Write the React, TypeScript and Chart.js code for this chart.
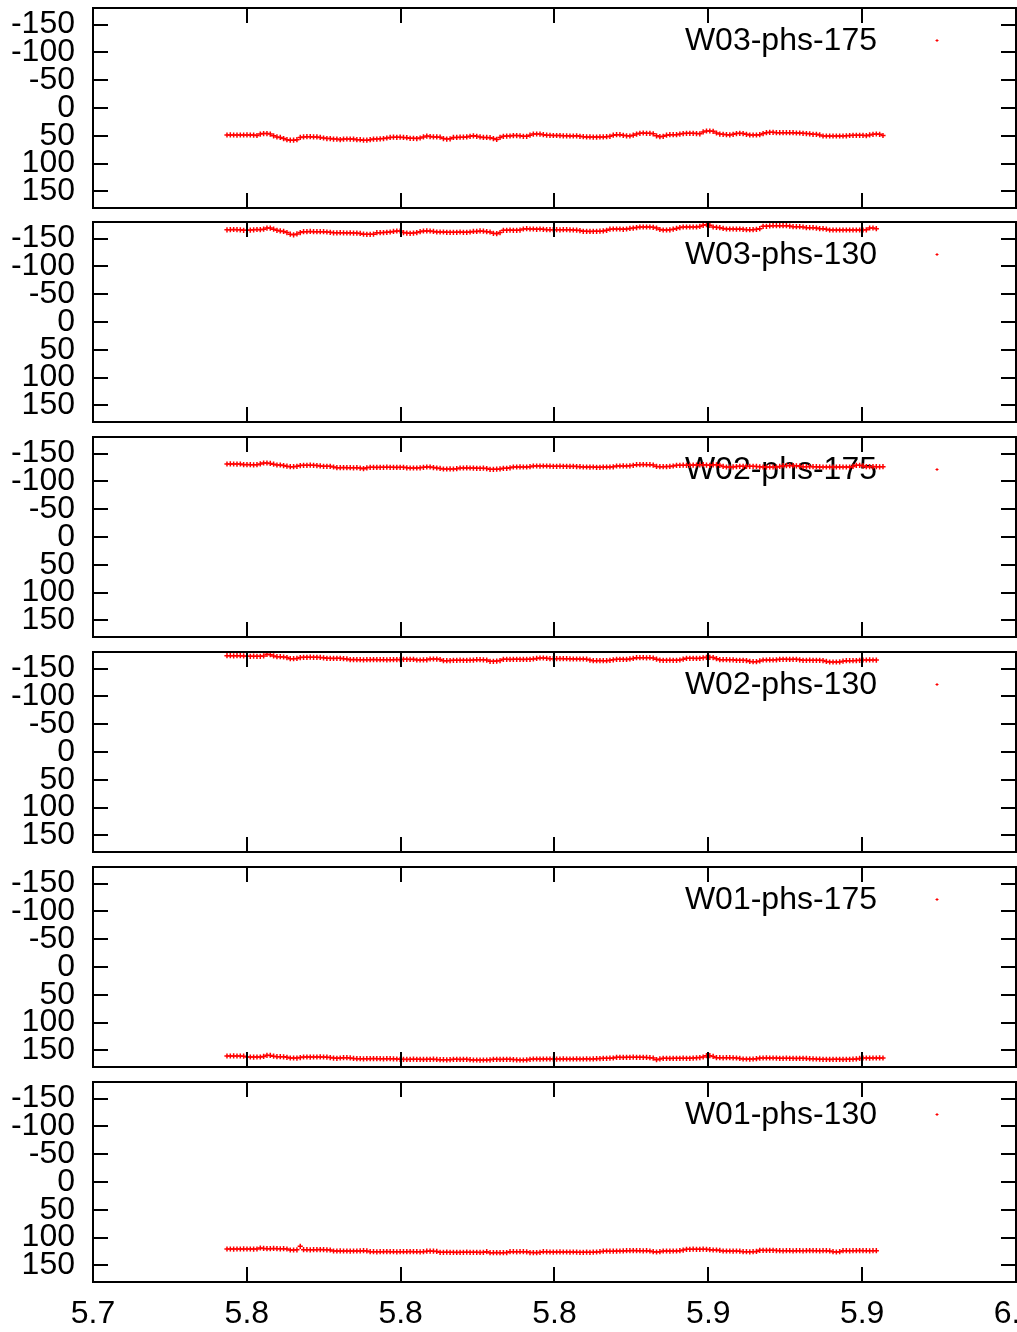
import React, { useEffect, useRef } from "react";
import { Chart, registerables } from "chart.js";
Chart.register(...registerables);

const seriesNames = ["W03-phs-175", "W03-phs-130", "W02-phs-175", "W02-phs-130", "W01-phs-175", "W01-phs-130"];
const xStart = 5.74355;
const xStep = 0.0010823;
const xTickValues = [5.7, 5.75, 5.8, 5.85, 5.9, 5.95, 6.0];
const xTickLabels = ["5.7", "5.8", "5.8", "5.8", "5.9", "5.9", "6.0"];
const yTickValues = [-150, -100, -50, 0, 50, 100, 150];

const w03phs175 = [
  48.6, 48.4, 48.6, 48.8, 48.6, 48.6, 48.4, 48.6, 48.8, 49.5,
  47, 46, 46, 47, 50, 52, 53, 55, 57, 58, 58, 57,
  53, 52, 51.6, 51.6, 52, 52, 53, 54, 55, 55, 56, 56, 57,
  56, 55.8, 56, 56, 57, 57, 58, 58, 57, 56, 56, 55.5, 55, 54,
  53, 52.6, 52.8, 52.5, 53, 53.5, 54.6, 54.6, 55, 54, 52, 50.5, 51.5,
  52, 52, 52.5, 55, 56, 55.5, 53, 53, 52.5, 52.5, 52, 51, 50,
  51, 52, 53, 53, 53.5, 55, 56.5, 53, 51, 50.5, 50.4, 49.6, 49.6, 50,
  51, 51, 49, 47, 46.8, 47, 48, 49,
  49.2, 49.5, 49.5, 49.6, 50, 50, 50.4, 50.4, 50,
  51, 51.6, 52, 52, 52.4, 52.4, 52, 52, 51.6, 51, 49, 48, 48,
  49.2, 50, 50.4, 49, 47, 45.6, 45, 45.6, 45.6, 46.5, 50, 51.6, 51,
  49, 48, 48, 48, 47, 46, 45.6, 45.6, 45.6, 46, 46.5, 43, 41.4, 41.4, 42,
  45, 47, 47.4, 48, 48.5, 47.4, 46, 45.6, 46, 47.4, 48.6, 48.6, 48.6, 48,
  46, 44.4, 43.8, 43.8, 44.4, 44.4, 44.4, 44.4, 44.4, 44.4, 45, 45, 45.6,
  46, 46.5, 47.4, 47.4, 48.5, 50.4, 50.4, 50.4, 50.4, 50.4, 50.4, 50.4,
  50, 49.5, 49.2, 49.2, 49.2, 49.2, 49.8, 48.5, 47.4, 46.8, 47.4, 49.5,
];
const w03phs130 = [
  -166, -166.2, -166.5, -166.2, -166, -165, -165, -165.5, -166, -166.5, -166.2, -167,
  -169, -169, -167, -165, -164, -163, -161, -158, -157, -158.5,
  -161, -162.6, -162.6, -163, -162.6, -162.6, -162.6, -162.6, -162, -161.5,
  -160.5, -160.5, -160.8, -160.5, -160.2, -160.5, -160, -160, -159.5,
  -158, -157.8, -157.8, -158, -160.8, -160.8, -161, -161.5, -162, -163, -163.8, -163.8,
  -161, -160, -159.6, -160, -161, -162.5, -163.8, -164, -163.8, -163,
  -162, -162, -162, -161.5, -161.5, -161.4, -161.4, -162, -161.4, -161.4, -162,
  -163, -163, -164, -163.5, -162.6, -162, -159.6, -159, -161,
  -165, -165, -165.4, -165, -165, -165.5, -167.4, -168, -167.4, -167.4, -166.8, -167.4, -166.8, -166.2,
  -166.2, -166.2, -166.2, -166, -166.2, -166.2, -166, -165.6, -165.2, -164.5,
  -163.2, -163.2, -163, -163.2, -163.2, -163.4, -164, -165, -167, -167.4, -167.4, -167.4,
  -166.8, -167.4, -168.5, -169, -170, -171, -171, -171, -171, -170.5,
  -169, -166.5, -165.6, -165.6, -166, -167, -168.5, -170,
  -171, -171, -171, -171, -171, -172, -174, -175.2, -174, -171, -170.4,
  -169.8, -168.5, -167.4, -167.4, -167.4, -167, -167.4, -166.8, -166.2,
  -166.2, -166.2, -166.8, -168, -172.2, -172.2, -173, -173.4, -173.4, -173.4,
  -173.4, -173.4, -172.6, -171.6, -171.6, -171.6, -171, -169.8, -169.8, -169.8, -169, -168, -168,
  -167, -165.6, -165.6, -165.6, -165.6, -165.6, -165.6, -165.6, -165.6,
  -165.6, -165.6, -165.6, -166, -169.2, -169.2, -168,
];
const w02phs175 = [
  -131.4, -131.6, -131.4, -131.2, -131.4, -130.2, -130.4, -130.2, -130, -130.2,
  -131.5, -133.2, -133.2, -132.5, -131, -129.6, -129.6, -128.5, -127.5, -126.6, -126.6, -127.2,
  -128.5, -129, -129, -129.2, -129, -128.6, -128, -127.2, -127.2, -127.2,
  -126, -124.8, -124.8, -125, -124.8, -124.8, -124.6, -124.8, -124, -123,
  -124.5, -125.4, -125.4, -125.2, -125.4, -125.4, -125.6, -125.4, -125.4, -125.2, -125.4, -125.4,
  -124.5, -124.2, -124.2, -124.2, -124.6, -125.5, -126, -126, -125, -124.2, -123.5,
  -122.4, -122.4, -122.6, -122.4, -123, -124.2, -124.2, -124.4, -124.2, -124,
  -123.6, -123.6, -123.8, -123.2, -121.8, -121.8, -122, -122.5, -123.6, -123.6, -124.5,
  -126, -126, -126.2, -126, -126, -126.5, -127.8, -127.8, -127.6, -127.8, -127.8,
  -127.5, -127.2, -127.2, -127.4, -127.2, -127.2, -127, -127.2, -126.8, -126.6,
  -126, -126, -125.8, -126, -125.4, -125.4, -125.8, -126, -126, -126.4,
  -127.8, -127.8, -128, -127.8, -128.2, -129, -130.2, -130.2, -130.4, -130.2, -130.2, -129.5,
  -127, -126.6, -126.6, -126.8, -127, -127.8, -129, -129, -129.2, -129, -129, -129.4,
  -129.6, -130, -130.2, -129.5, -129, -130, -130, -129, -127, -126, -126, -126.2,
  -126.8, -127.2, -127.2, -127, -127.2, -127.2, -127, -126.4, -126, -126, -126.2, -126, -126,
  -127, -128.4, -128.4, -128.6, -128.4, -128.2, -127.5, -126.6, -126.6, -126.8, -126.6,
  -126.6, -126.2, -126, -126, -126, -126, -126, -126.2, -126, -126, -126, -127,
  -129, -129, -128, -126.6, -126.6, -126.8, -126.6, -126.4, -126.6,
];
const w02phs130 = [
  -173.4, -173.4, -173.2, -173.4, -173.4, -173, -172.2, -172.2, -172.4, -172.2, -172.2, -173,
  -175.8, -175.2, -173, -171.6, -171.6, -171, -170, -168, -168, -168.5,
  -170, -170.4, -170.4, -170.6, -170.4, -170.4, -170.2, -169.5,
  -168.6, -168.6, -168.4, -168.6, -168.6, -168, -167.5,
  -166.2, -166.4, -166.2, -166.2, -166, -166.2, -166.2, -166.4, -166.2, -166.2, -166.2, -166, -166.2, -166.2, -166.4, -166.2,
  -166.8, -166.8, -166.6, -166.8, -165.6, -165.6, -165.8, -166, -167.4, -167.4, -167.2, -166.5,
  -164.4, -164.4, -164.6, -165, -165, -165.2, -165, -165, -165.2, -165.5,
  -166.2, -166.2, -166, -165.5, -163.2, -163.2, -163.6, -164.5,
  -166.8, -166.8, -166.6, -166.8, -166.8, -166.8, -166.6, -166.8, -166.8, -167.5,
  -168.5, -169.2, -169.2, -168.6,
  -168, -168, -168, -168.2, -168, -168, -167.8, -167.4, -167.4, -167.4, -167.4, -167,
  -165.5, -164.4, -164.4, -164.6, -164.4, -164.4, -165, -166, -166.8, -166.8, -166.8, -166.6, -167.5,
  -168.5, -169.8, -169.8, -169.8, -169.6, -169.8, -169, -167, -165.5,
  -165, -165, -165.2, -165, -165, -165.6, -167, -168.6, -168.6, -168.6, -168.4, -168.6,
  -169.5, -170.4, -170.4, -170, -168, -166.2, -166.2, -166.2, -166, -166,
  -165, -165, -165, -164.5, -163, -162.6, -162.6, -164, -165.6, -165.6, -165.8, -165.6,
  -166, -166.8, -166.8, -166.8, -166.6, -166.8, -166.8, -166, -165, -165, -165.2, -165, -165,
  -165, -164.5, -163, -162, -162, -162, -162.2, -163.5, -164.4, -164.4, -164.4,
  -164.6, -165, -165.6, -165.6, -165.8, -165.6, -165.4,
];
const w01phs175 = [
  160.2, 160.2, 160, 160.2, 160.2, 160.6, 162, 162, 162.2, 162, 162, 161,
  159, 159.2, 160.5, 161.4, 161.4, 161.6, 162.5, 163.8, 163.8, 164, 163,
  162, 162, 162.2, 162, 162, 161.8, 162, 162.4, 163, 164, 164.4,
  163.8, 163.2, 163.2, 163.6,
  164.5, 165, 165, 165.2, 165, 165, 164.8, 165, 165, 165.2, 165, 165, 165.2, 165.6,
  166.2, 166.2, 166.4, 166.2, 166, 166.2, 166.2, 166.4, 166.2, 166.2, 166, 166.4,
  166.8, 166.8, 167, 166.8, 166.2, 166.2, 166.4, 166.2, 166.2,
  166.8, 167.4, 167.4, 167.6, 167.4, 167.4, 167,
  166.2, 166.2, 166.4, 166.2, 166.2, 166.2, 166.6, 167, 167.4, 167.4, 167.2,
  166.2, 165.6, 165.6, 165.8, 165.6, 165.6,
  165.6, 165.6, 165.8, 165.6, 165.4, 165.6, 165.6, 165.6, 165.4, 165.6, 165.6, 165.2, 165.6, 165.4, 165,
  164.8, 164.4, 164.4, 164.2,
  163.8, 162.6, 162.6, 162.8, 162.6, 162.6, 162.4, 162.6, 162.6, 162.6, 162.8, 163.2,
  164, 166.8, 165.5, 164.4, 164.4, 164.6, 164.4, 164.4,
  164.4, 164.2, 164.4, 164.4, 164, 163.5, 163, 162, 159.6, 159.6, 161,
  163.2, 163.2, 163.4, 163.2, 163.2, 163.4, 163.8, 164.5, 165.6, 165.6, 165.8, 165.6, 165,
  164, 163.8, 163.6, 163.8, 163.8, 164,
  164.4, 164.4, 164.2, 164.4, 164.4, 164.6, 164.4, 164.4, 164.6, 165, 165.2, 165.6, 166,
  166.2, 166.2, 166.4, 166.2, 166.2, 166.2, 166.4, 166.2, 166.2, 166, 165.5,
  164.5, 163.8, 163.8, 164, 163.8, 163.8, 163.6, 163.8,
];
const w01phs130 = [
  120.6, 120.6, 120.8, 120.6, 120.6, 120.4, 120.6, 120.6, 120.8, 120.6, 118.8, 119.5,
  120, 120, 119.6, 120, 120.2, 120, 120.6, 122.4, 122.4, 122, 115.8,
  121.8, 121.8, 122, 121.8, 121.8, 121.6, 121.8, 122, 122.4,
  124.2, 124.2, 124, 124.2, 124.2, 124.4, 124.2, 124.2, 124, 123.6, 124,
  125.4, 125.4, 125.6, 125.4, 125.4, 125.2, 125.4, 125.4, 125.6, 125.4, 125.4, 125.4, 125.2, 125.4, 125.4, 125.6, 125.4, 124.6, 124.4, 124.6, 125,
  126.6, 126.6, 126.4, 126.6, 126.6, 126.8, 126.6, 126.6, 126.4, 126.6, 126.6, 126.6, 126.8, 126.6,
  125.4, 127.2, 127.2, 127, 127.2, 127.2, 127, 125.4, 125.4, 125.6, 125.4, 125.4, 125.6,
  127, 127, 127.2, 126.6, 125.4, 125.6,
  126, 126.2, 126, 125.8, 126, 126, 126.2, 126, 126.4, 126.6, 126.6, 126.4, 126.6, 126.4, 126, 125.4,
  124.5, 124.2, 124.5, 124.6, 124.4, 124.2, 124,
  123.6, 123.6, 123.4, 123.6, 123.6, 123.8, 123.6, 124.2, 125.5, 126, 125.4,
  124.2, 124.2, 124.4, 124.2, 124.2, 123.6, 122.5, 121.2, 121.2, 121, 121.2, 121.2,
  121, 121.2, 121.8, 122.4, 122.4, 123.2, 124.2, 124.2, 124.2, 124.4, 124.2, 124.6,
  125.4, 125.4, 125.6, 125.4, 125, 123, 123, 123.2, 123, 123, 123.4,
  123.6, 123.8, 123.6, 123.6, 124, 123.6, 123.6, 123.8, 123.6, 123.4, 123.6, 123.6, 123.8, 123.6, 123.6, 124,
  125.4, 126, 125.4,
  123.6, 123.6, 123.8, 123.6, 123.6, 123.4, 123.6, 123.6, 123.8, 123.6, 123.6,
];

const seriesValues = [w03phs175, w03phs130, w02phs175, w02phs130, w01phs175, w01phs130];

const FONT = '"Liberation Sans", Arial, sans-serif';
const FONT_SIZE = 32;
const CANVAS_W = 1017;
const panelTops = [0, 214, 429, 644, 859, 1074];
const TICK_LEN = 15;

Chart.defaults.font.family = FONT;

const framePlugin = {
  id: "gnuFrame",
  beforeDatasetsDraw(chart: any, _args: any, opts: any) {
    const { ctx, chartArea: a } = chart;
    ctx.save();
    ctx.font = `${FONT_SIZE}px ${FONT}`;
    ctx.fillStyle = "#000";
    ctx.textAlign = "right";
    ctx.textBaseline = "middle";
    ctx.fillText(opts.label, 877, a.top + 33);
    ctx.strokeStyle = "#ff0000";
    ctx.lineWidth = 1;
    ctx.beginPath();
    ctx.moveTo(935.5, a.top + 32.5);
    ctx.lineTo(938.5, a.top + 32.5);
    ctx.moveTo(937, a.top + 31);
    ctx.lineTo(937, a.top + 34);
    ctx.stroke();
    ctx.restore();
  },
  afterDatasetsDraw(chart: any) {
    const { ctx, chartArea: a, scales } = chart;
    ctx.save();
    ctx.strokeStyle = "#000";
    ctx.lineWidth = 2;
    ctx.beginPath();
    for (const v of xTickValues) {
      const px = Math.round(scales.x.getPixelForValue(v));
      ctx.moveTo(px, a.top);
      ctx.lineTo(px, a.top + TICK_LEN);
      ctx.moveTo(px, a.bottom);
      ctx.lineTo(px, a.bottom - TICK_LEN);
    }
    for (const v of yTickValues) {
      const py = Math.round(scales.y.getPixelForValue(v));
      ctx.moveTo(a.left, py);
      ctx.lineTo(a.left + TICK_LEN, py);
      ctx.moveTo(a.right, py);
      ctx.lineTo(a.right - TICK_LEN, py);
    }
    ctx.stroke();
    ctx.strokeRect(a.left, a.top, a.right - a.left, a.bottom - a.top);
    ctx.restore();
  },
};

function Panel({ idx }: { idx: number }) {
  const ref = useRef<HTMLCanvasElement>(null);
  const isLast = idx === seriesValues.length - 1;
  const height = isLast ? 1332 - panelTops[idx] : 215;
  useEffect(() => {
    const values = seriesValues[idx];
    const data = values.map((v, i) => ({ x: xStart + i * xStep, y: v }));
    const chart = new Chart(ref.current as HTMLCanvasElement, {
      type: "scatter",
      data: {
        datasets: [
          {
            label: seriesNames[idx],
            data,
            showLine: false,
            pointStyle: "cross",
            pointRadius: 2.6,
            pointHoverRadius: 2.6,
            pointBorderWidth: 1.5,
            borderColor: "#ff0000",
            backgroundColor: "#ff0000",
            clip: false,
          } as any,
        ],
      },
      options: {
        animation: false,
        responsive: false,
        devicePixelRatio: 1,
        events: [],
        layout: { autoPadding: false, padding: { top: 8, bottom: isLast ? 0 : 7, left: 0, right: 1 } },
        plugins: {
          legend: { display: false },
          tooltip: { enabled: false },
          gnuFrame: { label: seriesNames[idx] },
        } as any,
        scales: {
          x: {
            type: "linear",
            min: 5.7,
            max: 6.0,
            display: isLast,
            grid: { display: false, drawTicks: false },
            border: { display: false },
            afterBuildTicks: (s: any) => {
              s.ticks = xTickValues.map((v) => ({ value: v }));
            },
            afterFit: (s: any) => {
              s.height = isLast ? height - 208 : 0;
              s.paddingLeft = 0;
              s.paddingRight = 0;
            },
            ticks: {
              autoSkip: false,
              maxRotation: 0,
              padding: 13,
              color: "#000",
              font: { size: FONT_SIZE, family: FONT },
              callback: (_v: any, i: number) => xTickLabels[i],
            },
          },
          y: {
            type: "linear",
            reverse: true,
            min: -180,
            max: 180,
            grid: { display: false, drawTicks: false },
            border: { display: false },
            afterBuildTicks: (s: any) => {
              s.ticks = yTickValues.map((v) => ({ value: v }));
            },
            afterFit: (s: any) => {
              s.width = 93;
              s.paddingTop = 0;
              s.paddingBottom = 0;
            },
            ticks: {
              autoSkip: false,
              padding: 18,
              color: "#000",
              font: { size: FONT_SIZE, family: FONT },
              callback: (v: any) => String(v),
            },
          },
        },
      } as any,
      plugins: [framePlugin as any],
    });
    return () => chart.destroy();
  }, [idx, height]);
  return (
    <canvas
      ref={ref}
      width={CANVAS_W}
      height={height}
      style={{ position: "absolute", left: 0, top: panelTops[idx], display: "block" }}
    />
  );
}

export default function App() {
  return (
    <div style={{ position: "absolute", left: 0, top: 0, width: CANVAS_W, height: 1332, background: "#fff", overflow: "hidden" }}>
      {seriesValues.map((_, i) => (
        <Panel key={i} idx={i} />
      ))}
    </div>
  );
}
